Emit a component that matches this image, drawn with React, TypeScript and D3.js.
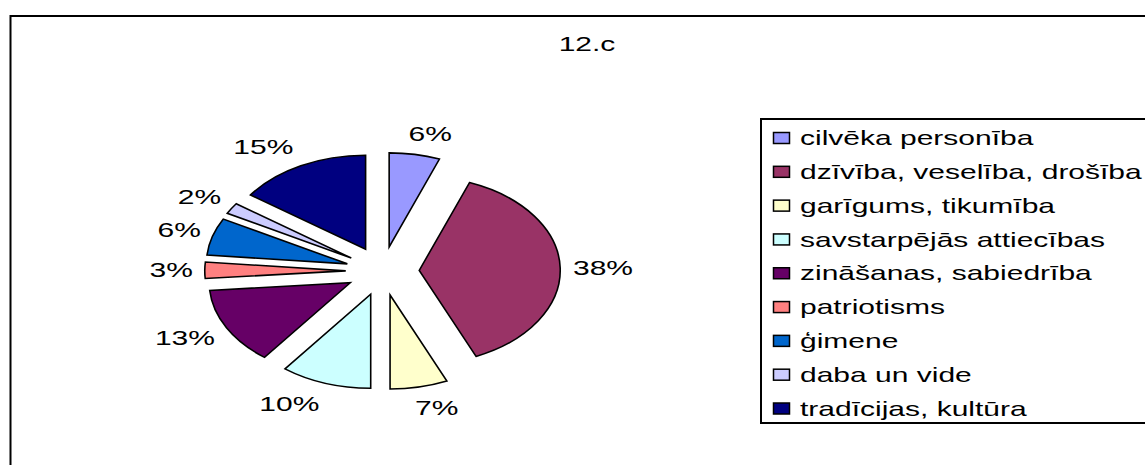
import React from "react";
import * as d3 from "d3";

const title = "12.c";
const categories = [
  "cilvēka personība",
  "dzīvība, veselība, drošība",
  "garīgums, tikumība",
  "savstarpējās attiecības",
  "zināšanas, sabiedrība",
  "patriotisms",
  "ģimene",
  "daba un vide",
  "tradīcijas, kultūra",
];
// shares (%); labels show them rounded
const values = [5.8, 37.6, 6.6, 10.4, 13.3, 2.8, 6.4, 1.9, 15.2];
const colors = [
  "#9999FF",
  "#993366",
  "#FFFFCC",
  "#CCFFFF",
  "#660066",
  "#FF8080",
  "#0066CC",
  "#CCCCFF",
  "#000080",
];

const W = 1145;
const H = 465;
const FONT = "'Liberation Sans', Arial, sans-serif";

export default function App() {
  const cx = 382.5;
  const cy = 271;
  const sx = 1.5; // horizontal stretch of the original chart
  const R = 94;
  const explode = 24.5;
  const labelR = 125;
  const fontSize = 20;
  const charW = (s: string) =>
    s.split("").reduce((acc, ch) => acc + (ch === "%" ? 0.889 : 0.556), 0) *
    fontSize *
    sx;

  const total = d3.sum(values);
  const pie = d3
    .pie<number>()
    .sort(null)
    .value((v) => v)
    .startAngle(0)
    .endAngle(2 * Math.PI);
  const arcs = pie(values);
  const arc = d3.arc<d3.PieArcDatum<number>>().innerRadius(0).outerRadius(R);

  const legendX = 761;
  const legendTop = 119;
  const legendBottom = 423;
  const rowY = d3
    .scaleLinear()
    .domain([0, categories.length - 1])
    .range([138, 408.5]);

  const clamp = (v: number, lo: number, hi: number) => Math.max(lo, Math.min(hi, v));

  return (
    <svg
      width={W}
      height={H}
      style={{ position: "absolute", left: 0, top: 0, background: "#fff" }}
      fontFamily={FONT}
    >
      <rect x={0} y={0} width={W} height={H} fill="#fff" />
      <rect
        x={10.5}
        y={16}
        width={1300}
        height={600}
        fill="#fff"
        stroke="#000"
        strokeWidth={2}
      />
      <text
        transform={`translate(587,51) scale(${sx},1)`}
        textAnchor="middle"
        fontSize={fontSize}
        fill="#000"
      >
        {title}
      </text>

      {arcs.map((a, i) => {
        const mid = (a.startAngle + a.endAngle) / 2;
        const ox = cx + sx * explode * Math.sin(mid);
        const oy = cy - explode * Math.cos(mid);
        return (
          <g key={i} transform={`translate(${ox},${oy}) scale(${sx},1)`}>
            <path
              d={arc(a) || ""}
              fill={colors[i]}
              stroke="#000"
              strokeWidth={1.6}
              vectorEffect="non-scaling-stroke"
              strokeLinejoin="miter"
            />
          </g>
        );
      })}

      {arcs.map((a, i) => {
        const mid = (a.startAngle + a.endAngle) / 2;
        const pct = Math.round((values[i] / total) * 100);
        const label = pct + "%";
        const hw = charW(label) / 2;
        const s = Math.sin(mid);
        const c = Math.cos(mid);
        const lx = cx + sx * labelR * s + hw * clamp(3.5 * s, -1.1, 1.1);
        const ly = cy - labelR * c - 15 * c;
        return (
          <text
            key={"l" + i}
            transform={`translate(${lx},${ly}) scale(${sx},1)`}
            textAnchor="middle"
            dy="0.36em"
            fontSize={fontSize}
            fill="#000"
          >
            {label}
          </text>
        );
      })}

      <rect
        x={legendX}
        y={legendTop}
        width={600}
        height={legendBottom - legendTop}
        fill="#fff"
        stroke="#000"
        strokeWidth={2}
      />
      {categories.map((cat, i) => {
        const y = rowY(i);
        return (
          <g key={"lg" + i}>
            <rect
              x={773.5}
              y={y - 5.5}
              width={16}
              height={11}
              fill={colors[i]}
              stroke="#000"
              strokeWidth={1.5}
            />
            <text
              transform={`translate(800,${y}) scale(${sx},1)`}
              dy="0.36em"
              fontSize={fontSize}
              fill="#000"
            >
              {cat}
            </text>
          </g>
        );
      })}
    </svg>
  );
}
